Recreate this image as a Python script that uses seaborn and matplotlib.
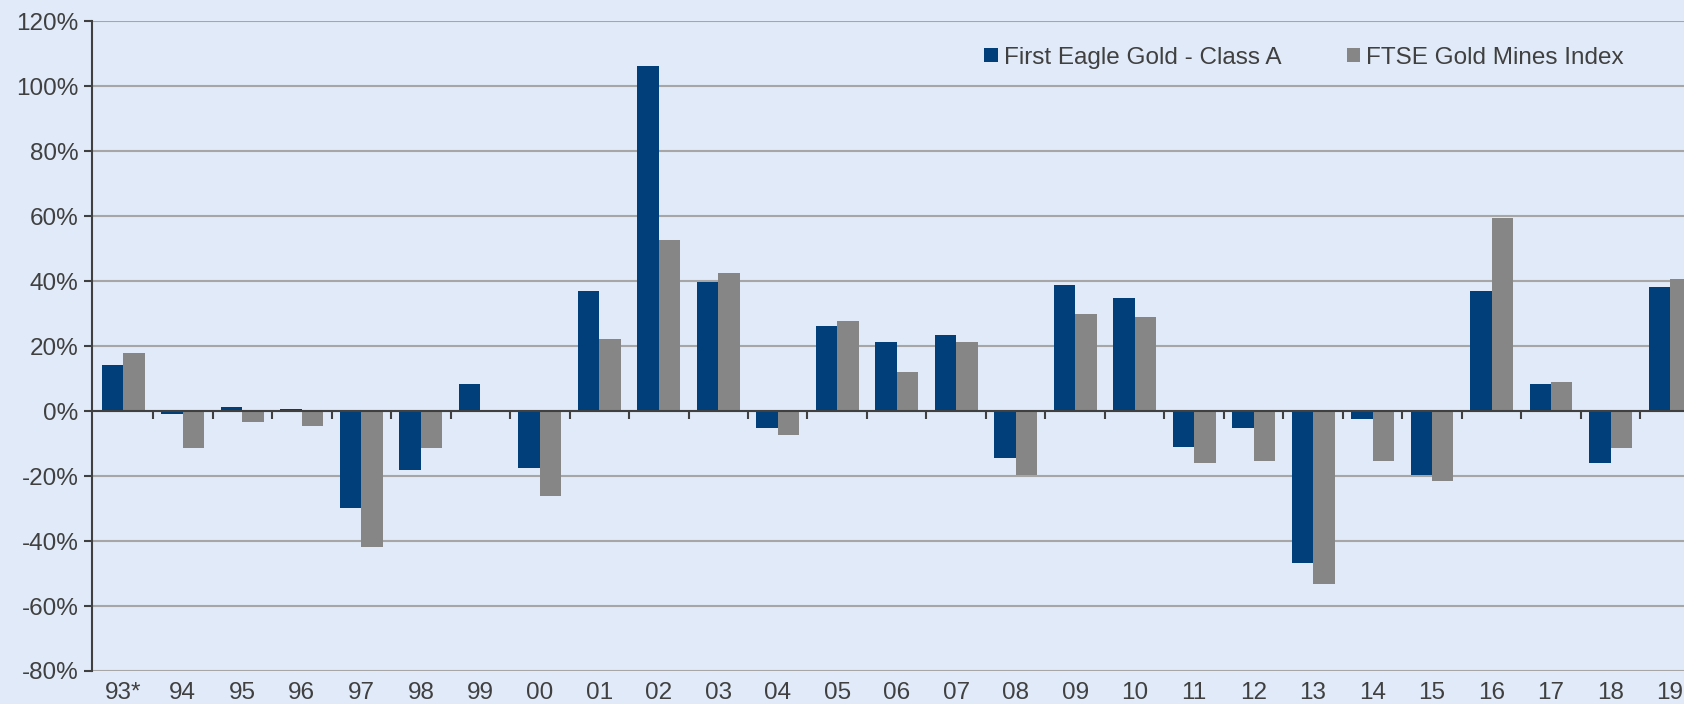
import numpy as np
import pandas as pd
import seaborn as sns
import matplotlib.pyplot as plt
from matplotlib.ticker import FuncFormatter

# ==========================
# DATOS
# ==========================

years = ["93*", "94", "95", "96", "97", "98", "99", "00", "01", "02", "03", "04", "05",
         "06", "07", "08", "09", "10", "11", "12", "13", "14", "15", "16", "17", "18", "19"]

first_eagle = [14.2, -1.0, 1.3, 0.7, -29.8, -18.2, 8.3, -17.5, 37.0, 106.4, 39.7, -5.3, 26.1,
               21.2, 23.5, -14.5, 39.0, 34.7, -10.9, -5.3, -46.9, -2.3, -19.5, 37.0, 8.3, -15.9, 38.3]

ftse_gold = [17.9, -11.2, -3.3, -4.6, -41.7, -11.2, 0.3, -26.1, 22.1, 52.6, 42.6, -7.3, 27.8,
             12.2, 21.2, -19.8, 29.8, 29.1, -15.9, -15.2, -53.2, -15.2, -21.5, 59.5, 8.9, -11.2, 40.7]

series_names = ["First Eagle Gold - Class A", "FTSE Gold Mines Index"]
colors = ["#003f7a", "#868686"]

df = pd.DataFrame({
    "year": years * 2,
    "series": [series_names[0]] * len(years) + [series_names[1]] * len(years),
    "value": first_eagle + ftse_gold,
})

# ==========================
# GRAFICA
# ==========================

bg = "#e0eaf8"
text_color = "#404040"

plt.rcParams["font.family"] = ["Liberation Sans", "DejaVu Sans"]

fig = plt.figure(figsize=(16.84, 7.04), dpi=100, facecolor=bg)
ax = fig.add_axes([0.0549, 0.0469, 1 - 0.0549, 0.9695 - 0.0469])
ax.set_facecolor(bg)

sns.barplot(data=df, x="year", y="value", hue="series", hue_order=series_names,
            palette=colors, width=0.72, saturation=1, ax=ax, zorder=3)

ax.set_ylim(-80, 120)
ax.set_xlim(-0.52, len(years) - 1 + 0.235)
ax.set_yticks(np.arange(-80, 121, 20))
ax.yaxis.set_major_formatter(FuncFormatter(lambda v, p: f"{v:.0f}%"))

ax.grid(axis="y", color="#a6a6a6", linewidth=1.5, zorder=0)
ax.set_axisbelow(True)
ax.set_xlabel("")
ax.set_ylabel("")

for side in ["top", "right", "bottom"]:
    ax.spines[side].set_visible(False)
ax.spines["left"].set_color(text_color)
ax.spines["left"].set_linewidth(1.5)

ax.tick_params(axis="y", colors=text_color, labelsize=17.5, length=6, width=1.5, pad=4)
ax.tick_params(axis="x", colors=text_color, labelsize=17.5, length=0, pad=8)

# linea de cero con marcas entre categorias
ax.axhline(0, color=text_color, linewidth=1.5, zorder=4)
bounds = np.arange(len(years)) + 0.5
ax.plot(bounds, np.zeros(len(bounds)), linestyle="none", marker=3, markersize=6,
        markeredgewidth=1.5, color=text_color, zorder=4)

leg = ax.legend(loc="upper right", bbox_to_anchor=(0.976, 0.995), ncol=2, frameon=False,
                fontsize=17.5, handlelength=0.55, handleheight=0.55, handletextpad=0.25,
                columnspacing=2.7, labelcolor=text_color)

fig.savefig("out.png", dpi=100, facecolor=bg)
